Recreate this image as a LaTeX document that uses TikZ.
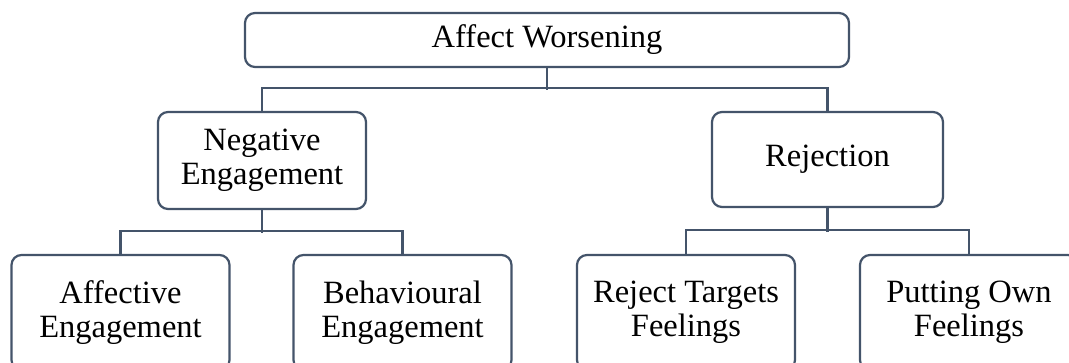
\documentclass[tikz,border=0pt]{standalone}
\usepackage{fontspec}
\setmainfont{Liberation Serif}
\usepackage{tikz}
\definecolor{treeLineSlate}{HTML}{44546A}

\begin{document}
\begin{tikzpicture}[x=1pt, y=-1pt,
        every node/.style={font=\fontsize{32.5}{34}\selectfont, align=center},
        treebox/.style={draw=treeLineSlate, line width=2.2pt, rounded corners=10pt, fill=white, inner sep=0pt},
        treeline/.style={draw=treeLineSlate, line width=2.2pt}]
            \clip (0,0) rectangle (1069,363);
            \fill[white] (0,0) rectangle (1069,363);
            \node[treebox, minimum width=604, minimum height=54] (top) at (547,40) {Affect Worsening};
            \node[treebox, minimum width=208, minimum height=97] (neg) at (262,160.5) {Negative\\Engagement};
            \node[treebox, minimum width=231, minimum height=95] (rej) at (827.5,159.5) {Rejection};
            \foreach \nm/\x/\lbl in {aff/120.5/{Affective\\Engagement},beh/402.5/{Behavioural\\Engagement},
                                    rtf/686/{Reject Targets\\Feelings},pof/969/{Putting Own\\Feelings}}{
                \node[treebox, minimum width=218, minimum height=115] (\nm) at (\x,312.5) {\lbl};
            }
            \draw[treeline] (top.south) -- ++(0,22);
            \draw[treeline] (neg.north) -- ++(0,-23) -| (rej.north);
            \draw[treeline] (neg.south) -- ++(0,23);
            \draw[treeline] (aff.north) -- ++(0,-23) -| (beh.north);
            \draw[treeline] (rej.south) -- ++(0,24);
            \draw[treeline] (rtf.north) -- ++(0,-24) -| (pof.north);
        \end{tikzpicture}
\end{document}
